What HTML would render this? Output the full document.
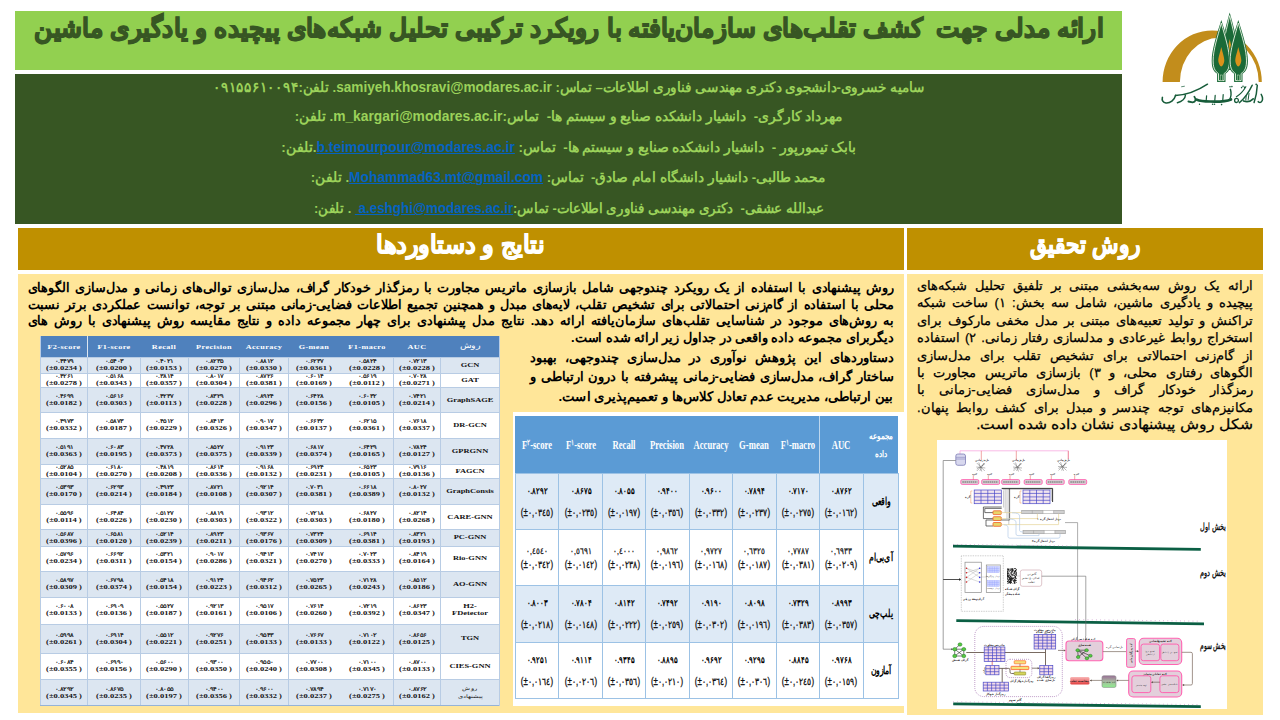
<!DOCTYPE html>
<html lang="fa"><head><meta charset="utf-8"><title>poster</title><style>
html,body{margin:0;padding:0;background:#fff}
body{position:relative;width:1280px;height:720px;overflow:hidden;font-family:"Liberation Sans",sans-serif;color:#000}
.b{position:absolute}
.ln{position:absolute;direction:rtl;white-space:nowrap;height:0}
.ln>span{position:absolute;right:0;top:0;display:block;transform-origin:100% 50%;white-space:nowrap;line-height:1}
.ln.c>span{right:auto;left:50%;transform-origin:50% 50%}
.j{text-align:justify;text-align-last:justify}
a{color:#0563c1;text-decoration:underline}

.c{position:absolute;white-space:nowrap;text-align:center;transform:translate(-50%,-50%);font-family:"Liberation Serif",serif;font-weight:bold;line-height:1}
.fa{direction:rtl;font-family:"Liberation Sans",sans-serif}
.lh{color:#fff;font-size:10px;transform:translate(-50%,-50%) scale(.82,.56);letter-spacing:.5px}
.ld{color:#111;font-size:10px;line-height:11.3px;transform:translate(-50%,-50%) scale(.85,.62)}
.ld .n{font-size:8px;font-weight:normal;-webkit-text-stroke:.25px #111;letter-spacing:.2px;font-family:"Liberation Sans",sans-serif;display:inline-block;transform:scaleY(1.2)}
.lm{color:#111;font-size:10px;line-height:10.5px;transform:translate(-50%,-50%) scale(.84,.64)}
.lm .fa{font-size:8px;font-weight:normal;display:inline-block;line-height:12px}
.rh{color:#fff;font-size:12px;transform:translate(-50%,-50%) scale(.72,1)}
.rh sup{font-size:8px;font-family:"Liberation Sans",sans-serif;vertical-align:4px;line-height:0}
.rhf{color:#fff;font-size:9px;line-height:18px;transform:translate(-50%,-50%) scale(.8,1)}
.rd1{color:#000;font-size:9.4px;font-family:"Liberation Sans",sans-serif;transform:translate(-50%,-50%) scale(.76,1)}
.rd2{color:#111;font-size:9.6px;font-weight:normal;-webkit-text-stroke:.3px #111;font-family:"Liberation Sans",sans-serif;transform:translate(-50%,-50%) scale(.82,1.08)}
.rd3{color:#111;font-size:8.6px;font-weight:normal;-webkit-text-stroke:.25px #111;font-family:"Liberation Sans",sans-serif;transform:translate(-50%,-50%) scale(.8,1)}
.rm{color:#000;font-size:10.8px;transform:translate(-50%,-50%) scale(.7,1)}
</style></head><body>
<div class="b" style="left:15px;top:11px;width:1107px;height:59px;background:#92d050"></div>
<div class="b" style="left:15px;top:74px;width:1107px;height:150px;background:#375623"></div>
<div class="b" style="left:18px;top:228px;width:886px;height:42px;background:#bf9000"></div>
<div class="b" style="left:907px;top:228px;width:356px;height:42px;background:#bf9000"></div>
<div class="b" style="left:18px;top:274px;width:886px;height:439px;background:#ffe699"></div>
<div class="b" style="left:907px;top:274px;width:356px;height:441px;background:#ffe699"></div>
<div class="ln" style="left:34px;top:15.12px;width:1069px"><span id="title" style="font-size:26px;font-weight:bold;color:#375623;transform:scaleX(0.9593);-webkit-text-stroke:1.3px #375623;">ارائه مدلی جهت&nbsp; کشف تقلب‌های سازمان‌یافته با رویکرد ترکیبی تحلیل شبکه‌های پیچیده و یادگیری ماشین</span></div>
<div class="ln" style="left:213px;top:79.74px;width:712px"><span id="au1" style="font-size:13.5px;font-weight:bold;color:#9bd25a;transform:scaleX(0.9700);">سامیه خسروی-دانشجوی دکتری مهندسی فناوری اطلاعات– تماس: <span dir="ltr" style="font-size:14px;font-weight:bold;">samiyeh.khosravi@modares.ac.ir</span>. تلفن:۰۹۱۵۵۶۱۰۰۹۴</span></div>
<div class="ln" style="left:295px;top:109.44px;width:548px"><span id="au2" style="font-size:13.5px;font-weight:bold;color:#9bd25a;transform:scaleX(0.9862);">مهرداد کارگری-&nbsp; دانشیار دانشکده صنایع و سیستم ها-&nbsp; تماس:<span dir="ltr" style="font-size:14px;font-weight:bold;">m_kargari@modares.ac.ir</span>. تلفن:</span></div>
<div class="ln" style="left:281px;top:139.94px;width:575px"><span id="au3" style="font-size:13.5px;font-weight:bold;color:#9bd25a;transform:scaleX(0.9942);">بابک تیمورپور -&nbsp; دانشیار دانشکده صنایع و سیستم ها-&nbsp; تماس: <a dir="ltr" style="font-size:14px;font-weight:bold;">b.teimourpour@modares.ac.ir</a>.تلفن:</span></div>
<div class="ln" style="left:311px;top:170.44px;width:515px"><span id="au4" style="font-size:13.5px;font-weight:bold;color:#9bd25a;transform:scaleX(0.9833);">محمد طالبی- دانشیار دانشگاه امام صادق-&nbsp; تماس: <a dir="ltr" style="font-size:14px;font-weight:bold;">Mohammad63.mt@gmail.com</a>. تلفن:</span></div>
<div class="ln" style="left:314px;top:200.94px;width:510px"><span id="au5" style="font-size:13.5px;font-weight:bold;color:#9bd25a;transform:scaleX(0.9570);">عبدالله عشقی-&nbsp; دکتری مهندسی فناوری اطلاعات- تماس:<a dir="ltr" style="font-size:14px;font-weight:bold;">&nbsp;a.eshghi@modares.ac.ir</a> . تلفن:</span></div>
<div class="ln" style="left:376px;top:231.75px;width:169px"><span id="h1" style="font-size:25px;font-weight:bold;color:#fff;transform:scaleX(0.9607);-webkit-text-stroke:1px #fff;">نتایج و دستاوردها</span></div>
<div class="ln" style="left:1030px;top:231.75px;width:110px"><span id="h2" style="font-size:25px;font-weight:bold;color:#fff;transform:scaleX(0.8665);-webkit-text-stroke:1px #fff;">روش تحقیق</span></div>
<div class="ln" style="left:28px;top:280.91px;width:866px"><span id="p1_0" class="j" style="width:883.67px;font-size:13px;font-weight:bold;color:#000;transform:scaleX(0.9800);">روش پیشنهادی با استفاده از یک رویکرد چندوجهی شامل بازسازی ماتریس مجاورت با رمزگذار خودکار گراف، مدل‌سازی توالی‌های زمانی و مدل‌سازی الگوهای</span></div>
<div class="ln" style="left:28px;top:297.51px;width:866px"><span id="p1_1" class="j" style="width:883.67px;font-size:13px;font-weight:bold;color:#000;transform:scaleX(0.9800);">محلی با استفاده از گام‌زنی احتمالاتی برای تشخیص تقلب، لایه‌های مبدل و همچنین تجمیع اطلاعات فضایی-زمانی مبتنی بر توجه، توانست عملکردی برتر نسبت</span></div>
<div class="ln" style="left:28px;top:314.11px;width:866px"><span id="p1_2" class="j" style="width:883.67px;font-size:13px;font-weight:bold;color:#000;transform:scaleX(0.9800);">به روش‌های موجود در شناسایی تقلب‌های سازمان‌یافته ارائه دهد. نتایج مدل پیشنهادی برای چهار مجموعه داده و نتایج مقایسه روش پیشنهادی با روش های</span></div>
<div class="ln" style="left:571px;top:330.71px;width:323px"><span id="p1_3" style="font-size:13px;font-weight:bold;color:#000;transform:scaleX(0.9874);">دیگربرای مجموعه داده واقعی در جداول زیر ارائه شده است.</span></div>
<div class="ln" style="left:530px;top:350.91px;width:364px"><span id="p2_0" class="j" style="width:364.00px;font-size:13px;font-weight:bold;color:#000;transform:scaleX(1.0000);">دستاوردهای این پژوهش نوآوری در مدل‌سازی چندوجهی، بهبود</span></div>
<div class="ln" style="left:530px;top:370.41px;width:364px"><span id="p2_1" class="j" style="width:364.00px;font-size:13px;font-weight:bold;color:#000;transform:scaleX(1.0000);">ساختار گراف، مدل‌سازی فضایی-زمانی پیشرفته با درون ارتباطی و</span></div>
<div class="ln" style="left:559px;top:389.91px;width:335px"><span id="p2_2" style="font-size:13px;font-weight:bold;color:#000;transform:scaleX(1.0166);">بین ارتباطی، مدیریت عدم تعادل کلاس‌ها و تعمیم‌پذیری است.</span></div>
<div class="ln" style="left:917px;top:278.91px;width:336px"><span id="p3_0" class="j" style="width:336.00px;font-size:13px;font-weight:normal;color:#000;transform:scaleX(1.0000);-webkit-text-stroke:0.25px #000;">ارائه یک روش سه‌بخشی مبتنی بر تلفیق تحلیل شبکه‌های</span></div>
<div class="ln" style="left:917px;top:296.31px;width:336px"><span id="p3_1" class="j" style="width:336.00px;font-size:13px;font-weight:normal;color:#000;transform:scaleX(1.0000);-webkit-text-stroke:0.25px #000;">پیچیده و یادگیری ماشین، شامل سه بخش: ۱) ساخت شبکه</span></div>
<div class="ln" style="left:917px;top:313.71px;width:336px"><span id="p3_2" class="j" style="width:336.00px;font-size:13px;font-weight:normal;color:#000;transform:scaleX(1.0000);-webkit-text-stroke:0.25px #000;">تراکنش و تولید تعبیه‌های مبتنی بر مدل مخفی مارکوف برای</span></div>
<div class="ln" style="left:917px;top:331.11px;width:336px"><span id="p3_3" class="j" style="width:336.00px;font-size:13px;font-weight:normal;color:#000;transform:scaleX(1.0000);-webkit-text-stroke:0.25px #000;">استخراج روابط غیرعادی و مدلسازی رفتار زمانی. ۲) استفاده</span></div>
<div class="ln" style="left:917px;top:348.51px;width:336px"><span id="p3_4" class="j" style="width:336.00px;font-size:13px;font-weight:normal;color:#000;transform:scaleX(1.0000);-webkit-text-stroke:0.25px #000;">از گام‌زنی احتمالاتی برای تشخیص تقلب برای مدل‌سازی</span></div>
<div class="ln" style="left:917px;top:365.91px;width:336px"><span id="p3_5" class="j" style="width:336.00px;font-size:13px;font-weight:normal;color:#000;transform:scaleX(1.0000);-webkit-text-stroke:0.25px #000;">الگوهای رفتاری محلی، و ۳) بازسازی ماتریس مجاورت با</span></div>
<div class="ln" style="left:917px;top:383.31px;width:336px"><span id="p3_6" class="j" style="width:336.00px;font-size:13px;font-weight:normal;color:#000;transform:scaleX(1.0000);-webkit-text-stroke:0.25px #000;">رمزگذار خودکار گراف و مدل‌سازی فضایی-زمانی با</span></div>
<div class="ln" style="left:917px;top:400.71px;width:336px"><span id="p3_7" class="j" style="width:336.00px;font-size:13px;font-weight:normal;color:#000;transform:scaleX(1.0000);-webkit-text-stroke:0.25px #000;">مکانیزم‌های توجه چندسر و مبدل برای کشف روابط پنهان.</span></div>
<div class="ln" style="left:976px;top:417.64px;width:277px"><span id="p3_8" style="font-size:13.5px;font-weight:normal;color:#000;transform:scaleX(1.1157);-webkit-text-stroke:0.25px #000;">شکل روش پیشنهادی نشان داده شده است.</span></div>
<div class="b lt" style="left:40px;top:336px;width:459px;height:370px;background:#fff">
<div class="b" style="left:0;top:0;width:459px;height:21px;background:#4f81bd"></div>
<div class="b" style="left:0;top:21.0px;width:459px;height:15.5px;background:#dce6f1;border-top:1px solid #b8cce4;box-sizing:border-box"></div>
<div class="b" style="left:0;top:36.5px;width:459px;height:14.5px;background:#fff;border-top:1px solid #b8cce4;box-sizing:border-box"></div>
<div class="b" style="left:0;top:51.0px;width:459px;height:25.0px;background:#dce6f1;border-top:1px solid #b8cce4;box-sizing:border-box"></div>
<div class="b" style="left:0;top:76.0px;width:459px;height:26.0px;background:#fff;border-top:1px solid #b8cce4;box-sizing:border-box"></div>
<div class="b" style="left:0;top:102.0px;width:459px;height:26.0px;background:#dce6f1;border-top:1px solid #b8cce4;box-sizing:border-box"></div>
<div class="b" style="left:0;top:128.0px;width:459px;height:14.0px;background:#fff;border-top:1px solid #b8cce4;box-sizing:border-box"></div>
<div class="b" style="left:0;top:142.0px;width:459px;height:26.0px;background:#dce6f1;border-top:1px solid #b8cce4;box-sizing:border-box"></div>
<div class="b" style="left:0;top:168.0px;width:459px;height:25.0px;background:#fff;border-top:1px solid #b8cce4;box-sizing:border-box"></div>
<div class="b" style="left:0;top:193.0px;width:459px;height:16.5px;background:#dce6f1;border-top:1px solid #b8cce4;box-sizing:border-box"></div>
<div class="b" style="left:0;top:209.5px;width:459px;height:25.0px;background:#fff;border-top:1px solid #b8cce4;box-sizing:border-box"></div>
<div class="b" style="left:0;top:234.5px;width:459px;height:26.0px;background:#dce6f1;border-top:1px solid #b8cce4;box-sizing:border-box"></div>
<div class="b" style="left:0;top:260.5px;width:459px;height:27.0px;background:#fff;border-top:1px solid #b8cce4;box-sizing:border-box"></div>
<div class="b" style="left:0;top:287.5px;width:459px;height:29.5px;background:#dce6f1;border-top:1px solid #b8cce4;box-sizing:border-box"></div>
<div class="b" style="left:0;top:317.0px;width:459px;height:26.0px;background:#fff;border-top:1px solid #b8cce4;box-sizing:border-box"></div>
<div class="b" style="left:0;top:343.0px;width:459px;height:27.0px;background:#dce6f1;border-top:1px solid #b8cce4;box-sizing:border-box"></div>
<div class="b" style="left:-0.5px;top:0px;width:1px;height:370px;background:#b8cce4"></div>
<div class="b" style="left:46.9px;top:0;width:1px;height:21px;background:#dce6f1"></div>
<div class="b" style="left:46.9px;top:21px;width:1px;height:349px;background:#b8cce4"></div>
<div class="b" style="left:99.9px;top:21px;width:1px;height:349px;background:#b8cce4"></div>
<div class="b" style="left:147.7px;top:21px;width:1px;height:349px;background:#b8cce4"></div>
<div class="b" style="left:198.9px;top:21px;width:1px;height:349px;background:#b8cce4"></div>
<div class="b" style="left:247.8px;top:21px;width:1px;height:349px;background:#b8cce4"></div>
<div class="b" style="left:352.9px;top:21px;width:1px;height:349px;background:#b8cce4"></div>
<div class="b" style="left:400.0px;top:21px;width:1px;height:349px;background:#b8cce4"></div>
<div class="b" style="left:458.5px;top:0px;width:1px;height:370px;background:#b8cce4"></div>
<div class="b" style="left:0;top:369px;width:459px;height:1px;background:#95b3d7"></div>
<div class="c lh" style="left:23.7px;top:10.5px">F2-score</div>
<div class="c lh" style="left:73.9px;top:10.5px">F1-score</div>
<div class="c lh" style="left:124.3px;top:10.5px">Recall</div>
<div class="c lh" style="left:173.8px;top:10.5px">Precision</div>
<div class="c lh" style="left:223.9px;top:10.5px">Accuracy</div>
<div class="c lh" style="left:274.4px;top:10.5px">G-mean</div>
<div class="c lh" style="left:326.9px;top:10.5px">F1-macro</div>
<div class="c lh" style="left:376.9px;top:10.5px">AUC</div>
<div class="c lh fa" style="left:429.8px;top:10.0px;font-size:10px;font-weight:normal;transform:translate(-50%,-50%) scale(.95,.8)">روش</div>
<div class="c ld" style="left:23.7px;top:28.1px"><span class="n">۰.۴۴۷۹</span><br>(±0.0234 )</div>
<div class="c ld" style="left:73.9px;top:28.1px"><span class="n">۰.۵۴۰۳</span><br>(±0.0200 )</div>
<div class="c ld" style="left:124.3px;top:28.1px"><span class="n">۰.۴۰۲۱</span><br>(±0.0153 )</div>
<div class="c ld" style="left:173.8px;top:28.1px"><span class="n">۰.۸۲۳۵</span><br>(±0.0270 )</div>
<div class="c ld" style="left:223.9px;top:28.1px"><span class="n">۰.۸۸۱۲</span><br>(±0.0330 )</div>
<div class="c ld" style="left:274.4px;top:28.1px"><span class="n">۰.۶۲۳۷</span><br>(±0.0361 )</div>
<div class="c ld" style="left:326.9px;top:28.1px"><span class="n">۰.۵۸۲۴</span><br>(±0.0228 )</div>
<div class="c ld" style="left:376.9px;top:28.1px"><span class="n">۰.۷۲۱۳</span><br>(±0.0228 )</div>
<div class="c lm" style="left:429.8px;top:28.8px">GCN</div>
<div class="c ld" style="left:23.7px;top:43.1px"><span class="n">۰.۴۲۶۱</span><br>(±0.0278 )</div>
<div class="c ld" style="left:73.9px;top:43.1px"><span class="n">۰.۵۱۶۸</span><br>(±0.0343 )</div>
<div class="c ld" style="left:124.3px;top:43.1px"><span class="n">۰.۳۸۱۴</span><br>(±0.0357 )</div>
<div class="c ld" style="left:173.8px;top:43.1px"><span class="n">۰.۸۰۱۷</span><br>(±0.0304 )</div>
<div class="c ld" style="left:223.9px;top:43.1px"><span class="n">۰.۸۷۲۶</span><br>(±0.0381 )</div>
<div class="c ld" style="left:274.4px;top:43.1px"><span class="n">۰.۶۰۱۴</span><br>(±0.0169 )</div>
<div class="c ld" style="left:326.9px;top:43.1px"><span class="n">۰.۵۶۱۹</span><br>(±0.0112 )</div>
<div class="c ld" style="left:376.9px;top:43.1px"><span class="n">۰.۷۰۲۸</span><br>(±0.0271 )</div>
<div class="c lm" style="left:429.8px;top:43.8px">GAT</div>
<div class="c ld" style="left:23.7px;top:62.9px"><span class="n">۰.۴۶۹۹</span><br>(±0.0182 )</div>
<div class="c ld" style="left:73.9px;top:62.9px"><span class="n">۰.۵۶۱۶</span><br>(±0.0303 )</div>
<div class="c ld" style="left:124.3px;top:62.9px"><span class="n">۰.۴۲۳۷</span><br>(±0.0113 )</div>
<div class="c ld" style="left:173.8px;top:62.9px"><span class="n">۰.۸۳۲۹</span><br>(±0.0228 )</div>
<div class="c ld" style="left:223.9px;top:62.9px"><span class="n">۰.۸۹۲۴</span><br>(±0.0296 )</div>
<div class="c ld" style="left:274.4px;top:62.9px"><span class="n">۰.۶۴۲۸</span><br>(±0.0156 )</div>
<div class="c ld" style="left:326.9px;top:62.9px"><span class="n">۰.۶۰۳۲</span><br>(±0.0105 )</div>
<div class="c ld" style="left:376.9px;top:62.9px"><span class="n">۰.۷۴۲۱</span><br>(±0.0214 )</div>
<div class="c lm" style="left:429.8px;top:63.5px">GraphSAGE</div>
<div class="c ld" style="left:23.7px;top:88.4px"><span class="n">۰.۴۹۷۳</span><br>(±0.0332 )</div>
<div class="c ld" style="left:73.9px;top:88.4px"><span class="n">۰.۵۸۷۳</span><br>(±0.0187 )</div>
<div class="c ld" style="left:124.3px;top:88.4px"><span class="n">۰.۴۵۱۲</span><br>(±0.0229 )</div>
<div class="c ld" style="left:173.8px;top:88.4px"><span class="n">۰.۸۴۱۳</span><br>(±0.0326 )</div>
<div class="c ld" style="left:223.9px;top:88.4px"><span class="n">۰.۹۰۱۷</span><br>(±0.0347 )</div>
<div class="c ld" style="left:274.4px;top:88.4px"><span class="n">۰.۶۶۳۲</span><br>(±0.0137 )</div>
<div class="c ld" style="left:326.9px;top:88.4px"><span class="n">۰.۶۲۱۵</span><br>(±0.0361 )</div>
<div class="c ld" style="left:376.9px;top:88.4px"><span class="n">۰.۷۶۱۸</span><br>(±0.0337 )</div>
<div class="c lm" style="left:429.8px;top:89.0px">DR-GCN</div>
<div class="c ld" style="left:23.7px;top:114.4px"><span class="n">۰.۵۱۹۱</span><br>(±0.0363 )</div>
<div class="c ld" style="left:73.9px;top:114.4px"><span class="n">۰.۶۰۸۳</span><br>(±0.0195 )</div>
<div class="c ld" style="left:124.3px;top:114.4px"><span class="n">۰.۴۷۲۸</span><br>(±0.0373 )</div>
<div class="c ld" style="left:173.8px;top:114.4px"><span class="n">۰.۸۵۲۷</span><br>(±0.0375 )</div>
<div class="c ld" style="left:223.9px;top:114.4px"><span class="n">۰.۹۱۲۳</span><br>(±0.0339 )</div>
<div class="c ld" style="left:274.4px;top:114.4px"><span class="n">۰.۶۸۱۷</span><br>(±0.0374 )</div>
<div class="c ld" style="left:326.9px;top:114.4px"><span class="n">۰.۶۴۲۹</span><br>(±0.0165 )</div>
<div class="c ld" style="left:376.9px;top:114.4px"><span class="n">۰.۷۸۲۴</span><br>(±0.0127 )</div>
<div class="c lm" style="left:429.8px;top:115.0px">GPRGNN</div>
<div class="c ld" style="left:23.7px;top:134.4px"><span class="n">۰.۵۲۸۵</span><br>(±0.0104 )</div>
<div class="c ld" style="left:73.9px;top:134.4px"><span class="n">۰.۶۱۸۰</span><br>(±0.0270 )</div>
<div class="c ld" style="left:124.3px;top:134.4px"><span class="n">۰.۴۸۱۹</span><br>(±0.0208 )</div>
<div class="c ld" style="left:173.8px;top:134.4px"><span class="n">۰.۸۶۱۴</span><br>(±0.0336 )</div>
<div class="c ld" style="left:223.9px;top:134.4px"><span class="n">۰.۹۱۶۸</span><br>(±0.0132 )</div>
<div class="c ld" style="left:274.4px;top:134.4px"><span class="n">۰.۶۹۲۴</span><br>(±0.0231 )</div>
<div class="c ld" style="left:326.9px;top:134.4px"><span class="n">۰.۶۵۲۳</span><br>(±0.0105 )</div>
<div class="c ld" style="left:376.9px;top:134.4px"><span class="n">۰.۷۹۱۶</span><br>(±0.0136 )</div>
<div class="c lm" style="left:429.8px;top:135.0px">FAGCN</div>
<div class="c ld" style="left:23.7px;top:154.4px"><span class="n">۰.۵۳۹۳</span><br>(±0.0170 )</div>
<div class="c ld" style="left:73.9px;top:154.4px"><span class="n">۰.۶۲۹۳</span><br>(±0.0214 )</div>
<div class="c ld" style="left:124.3px;top:154.4px"><span class="n">۰.۴۹۲۳</span><br>(±0.0184 )</div>
<div class="c ld" style="left:173.8px;top:154.4px"><span class="n">۰.۸۷۲۱</span><br>(±0.0108 )</div>
<div class="c ld" style="left:223.9px;top:154.4px"><span class="n">۰.۹۲۱۴</span><br>(±0.0307 )</div>
<div class="c ld" style="left:274.4px;top:154.4px"><span class="n">۰.۷۰۳۱</span><br>(±0.0381 )</div>
<div class="c ld" style="left:326.9px;top:154.4px"><span class="n">۰.۶۶۱۸</span><br>(±0.0389 )</div>
<div class="c ld" style="left:376.9px;top:154.4px"><span class="n">۰.۸۰۲۷</span><br>(±0.0132 )</div>
<div class="c lm" style="left:429.8px;top:155.0px">GraphConsis</div>
<div class="c ld" style="left:23.7px;top:179.9px"><span class="n">۰.۵۵۹۶</span><br>(±0.0114 )</div>
<div class="c ld" style="left:73.9px;top:179.9px"><span class="n">۰.۶۴۸۴</span><br>(±0.0226 )</div>
<div class="c ld" style="left:124.3px;top:179.9px"><span class="n">۰.۵۱۲۷</span><br>(±0.0230 )</div>
<div class="c ld" style="left:173.8px;top:179.9px"><span class="n">۰.۸۸۱۹</span><br>(±0.0303 )</div>
<div class="c ld" style="left:223.9px;top:179.9px"><span class="n">۰.۹۳۱۲</span><br>(±0.0322 )</div>
<div class="c ld" style="left:274.4px;top:179.9px"><span class="n">۰.۷۲۱۸</span><br>(±0.0303 )</div>
<div class="c ld" style="left:326.9px;top:179.9px"><span class="n">۰.۶۸۲۷</span><br>(±0.0180 )</div>
<div class="c ld" style="left:376.9px;top:179.9px"><span class="n">۰.۸۲۱۴</span><br>(±0.0268 )</div>
<div class="c lm" style="left:429.8px;top:180.5px">CARE-GNN</div>
<div class="c ld" style="left:23.7px;top:200.7px"><span class="n">۰.۵۶۸۷</span><br>(±0.0396 )</div>
<div class="c ld" style="left:73.9px;top:200.7px"><span class="n">۰.۶۵۸۱</span><br>(±0.0120 )</div>
<div class="c ld" style="left:124.3px;top:200.7px"><span class="n">۰.۵۲۱۴</span><br>(±0.0239 )</div>
<div class="c ld" style="left:173.8px;top:200.7px"><span class="n">۰.۸۹۲۳</span><br>(±0.0211 )</div>
<div class="c ld" style="left:223.9px;top:200.7px"><span class="n">۰.۹۳۶۷</span><br>(±0.0176 )</div>
<div class="c ld" style="left:274.4px;top:200.7px"><span class="n">۰.۷۳۲۴</span><br>(±0.0309 )</div>
<div class="c ld" style="left:326.9px;top:200.7px"><span class="n">۰.۶۹۱۴</span><br>(±0.0381 )</div>
<div class="c ld" style="left:376.9px;top:200.7px"><span class="n">۰.۸۳۲۱</span><br>(±0.0193 )</div>
<div class="c lm" style="left:429.8px;top:201.2px">PC-GNN</div>
<div class="c ld" style="left:23.7px;top:221.4px"><span class="n">۰.۵۷۹۶</span><br>(±0.0234 )</div>
<div class="c ld" style="left:73.9px;top:221.4px"><span class="n">۰.۶۶۹۲</span><br>(±0.0311 )</div>
<div class="c ld" style="left:124.3px;top:221.4px"><span class="n">۰.۵۳۲۱</span><br>(±0.0154 )</div>
<div class="c ld" style="left:173.8px;top:221.4px"><span class="n">۰.۹۰۱۷</span><br>(±0.0286 )</div>
<div class="c ld" style="left:223.9px;top:221.4px"><span class="n">۰.۹۴۱۳</span><br>(±0.0321 )</div>
<div class="c ld" style="left:274.4px;top:221.4px"><span class="n">۰.۷۴۱۷</span><br>(±0.0270 )</div>
<div class="c ld" style="left:326.9px;top:221.4px"><span class="n">۰.۷۰۲۳</span><br>(±0.0333 )</div>
<div class="c ld" style="left:376.9px;top:221.4px"><span class="n">۰.۸۴۱۹</span><br>(±0.0164 )</div>
<div class="c lm" style="left:429.8px;top:222.0px">Rio-GNN</div>
<div class="c ld" style="left:23.7px;top:246.9px"><span class="n">۰.۵۸۹۷</span><br>(±0.0309 )</div>
<div class="c ld" style="left:73.9px;top:246.9px"><span class="n">۰.۶۷۹۸</span><br>(±0.0374 )</div>
<div class="c ld" style="left:124.3px;top:246.9px"><span class="n">۰.۵۴۱۸</span><br>(±0.0154 )</div>
<div class="c ld" style="left:173.8px;top:246.9px"><span class="n">۰.۹۱۲۴</span><br>(±0.0223 )</div>
<div class="c ld" style="left:223.9px;top:246.9px"><span class="n">۰.۹۴۶۲</span><br>(±0.0312 )</div>
<div class="c ld" style="left:274.4px;top:246.9px"><span class="n">۰.۷۵۲۳</span><br>(±0.0265 )</div>
<div class="c ld" style="left:326.9px;top:246.9px"><span class="n">۰.۷۱۲۸</span><br>(±0.0243 )</div>
<div class="c ld" style="left:376.9px;top:246.9px"><span class="n">۰.۸۵۱۲</span><br>(±0.0186 )</div>
<div class="c lm" style="left:429.8px;top:247.5px">AO-GNN</div>
<div class="c ld" style="left:23.7px;top:273.4px"><span class="n">۰.۶۰۰۸</span><br>(±0.0133 )</div>
<div class="c ld" style="left:73.9px;top:273.4px"><span class="n">۰.۶۹۰۹</span><br>(±0.0136 )</div>
<div class="c ld" style="left:124.3px;top:273.4px"><span class="n">۰.۵۵۲۷</span><br>(±0.0187 )</div>
<div class="c ld" style="left:173.8px;top:273.4px"><span class="n">۰.۹۲۱۳</span><br>(±0.0161 )</div>
<div class="c ld" style="left:223.9px;top:273.4px"><span class="n">۰.۹۵۱۷</span><br>(±0.0106 )</div>
<div class="c ld" style="left:274.4px;top:273.4px"><span class="n">۰.۷۶۱۴</span><br>(±0.0260 )</div>
<div class="c ld" style="left:326.9px;top:273.4px"><span class="n">۰.۷۲۱۹</span><br>(±0.0392 )</div>
<div class="c ld" style="left:376.9px;top:273.4px"><span class="n">۰.۸۶۲۳</span><br>(±0.0347 )</div>
<div class="c lm" style="left:429.8px;top:274.0px">H2-<br>FDetector</div>
<div class="c ld" style="left:23.7px;top:301.6px"><span class="n">۰.۵۹۹۸</span><br>(±0.0261 )</div>
<div class="c ld" style="left:73.9px;top:301.6px"><span class="n">۰.۶۹۱۴</span><br>(±0.0304 )</div>
<div class="c ld" style="left:124.3px;top:301.6px"><span class="n">۰.۵۵۱۲</span><br>(±0.0221 )</div>
<div class="c ld" style="left:173.8px;top:301.6px"><span class="n">۰.۹۲۷۶</span><br>(±0.0251 )</div>
<div class="c ld" style="left:223.9px;top:301.6px"><span class="n">۰.۹۵۴۳</span><br>(±0.0133 )</div>
<div class="c ld" style="left:274.4px;top:301.6px"><span class="n">۰.۷۶۶۷</span><br>(±0.0133 )</div>
<div class="c ld" style="left:326.9px;top:301.6px"><span class="n">۰.۷۱۰۲</span><br>(±0.0122 )</div>
<div class="c ld" style="left:376.9px;top:301.6px"><span class="n">۰.۸۶۵۶</span><br>(±0.0125 )</div>
<div class="c lm" style="left:429.8px;top:302.2px">TGN</div>
<div class="c ld" style="left:23.7px;top:329.4px"><span class="n">۰.۶۰۸۴</span><br>(±0.0355 )</div>
<div class="c ld" style="left:73.9px;top:329.4px"><span class="n">۰.۶۹۹۰</span><br>(±0.0156 )</div>
<div class="c ld" style="left:124.3px;top:329.4px"><span class="n">۰.۵۶۰۰</span><br>(±0.0290 )</div>
<div class="c ld" style="left:173.8px;top:329.4px"><span class="n">۰.۹۳۰۰</span><br>(±0.0350 )</div>
<div class="c ld" style="left:223.9px;top:329.4px"><span class="n">۰.۹۵۵۰</span><br>(±0.0240 )</div>
<div class="c ld" style="left:274.4px;top:329.4px"><span class="n">۰.۷۷۰۰</span><br>(±0.0308 )</div>
<div class="c ld" style="left:326.9px;top:329.4px"><span class="n">۰.۷۱۰۰</span><br>(±0.0345 )</div>
<div class="c ld" style="left:376.9px;top:329.4px"><span class="n">۰.۸۷۰۰</span><br>(±0.0133 )</div>
<div class="c lm" style="left:429.8px;top:330.0px">CIES-GNN</div>
<div class="c ld" style="left:23.7px;top:355.9px"><span class="n">۰.۸۲۹۲</span><br>(±0.0345 )</div>
<div class="c ld" style="left:73.9px;top:355.9px"><span class="n">۰.۸۶۷۵</span><br>(±0.0235 )</div>
<div class="c ld" style="left:124.3px;top:355.9px"><span class="n">۰.۸۰۵۵</span><br>(±0.0197 )</div>
<div class="c ld" style="left:173.8px;top:355.9px"><span class="n">۰.۹۴۰۰</span><br>(±0.0356 )</div>
<div class="c ld" style="left:223.9px;top:355.9px"><span class="n">۰.۹۶۰۰</span><br>(±0.0332 )</div>
<div class="c ld" style="left:274.4px;top:355.9px"><span class="n">۰.۷۸۹۴</span><br>(±0.0237 )</div>
<div class="c ld" style="left:326.9px;top:355.9px"><span class="n">۰.۷۱۷۰</span><br>(±0.0275 )</div>
<div class="c ld" style="left:376.9px;top:355.9px"><span class="n">۰.۸۷۶۲</span><br>(±0.0162 )</div>
<div class="c lm" style="left:429.8px;top:356.5px"><span class="fa">روش<br>پیشنهادی</span></div>
</div>
<div class="b" style="left:513px;top:412px;width:393px;height:294px;background:#fff"></div>
<div class="b rt" style="left:515px;top:416px;width:383px;height:282.5px;background:#fff">
<div class="b" style="left:0;top:0;width:383px;height:56.5px;background:#5b9bd5"></div>
<div class="b" style="left:0;top:56.5px;width:383px;height:56.8px;background:#deeaf6;border-top:1px solid #9cc2e5;box-sizing:border-box"></div>
<div class="b" style="left:0;top:113.3px;width:383px;height:55.7px;background:#fff;border-top:1px solid #9cc2e5;box-sizing:border-box"></div>
<div class="b" style="left:0;top:169.0px;width:383px;height:56.8px;background:#deeaf6;border-top:1px solid #9cc2e5;box-sizing:border-box"></div>
<div class="b" style="left:0;top:225.8px;width:383px;height:56.7px;background:#fff;border-top:1px solid #9cc2e5;box-sizing:border-box"></div>
<div class="b" style="left:-0.5px;top:56.5px;width:1px;height:226.0px;background:#9cc2e5"></div>
<div class="b" style="left:43.0px;top:56.5px;width:1px;height:226.0px;background:#9cc2e5"></div>
<div class="b" style="left:87.0px;top:56.5px;width:1px;height:226.0px;background:#9cc2e5"></div>
<div class="b" style="left:130.0px;top:56.5px;width:1px;height:226.0px;background:#9cc2e5"></div>
<div class="b" style="left:173.8px;top:56.5px;width:1px;height:226.0px;background:#9cc2e5"></div>
<div class="b" style="left:216.9px;top:56.5px;width:1px;height:226.0px;background:#9cc2e5"></div>
<div class="b" style="left:260.5px;top:56.5px;width:1px;height:226.0px;background:#9cc2e5"></div>
<div class="b" style="left:304.1px;top:56.5px;width:1px;height:226.0px;background:#9cc2e5"></div>
<div class="b" style="left:347.6px;top:56.5px;width:1px;height:226.0px;background:#9cc2e5"></div>
<div class="b" style="left:382.5px;top:56.5px;width:1px;height:226.0px;background:#9cc2e5"></div>
<div class="b" style="left:304.1px;top:0;width:1px;height:56.5px;background:#bdd7ee"></div>
<div class="b" style="left:0;top:281.5px;width:383px;height:1px;background:#9cc2e5"></div>
<div class="c rh" style="left:21.8px;top:29.1px">F<sup>۲</sup>-score</div>
<div class="c rh" style="left:65.5px;top:29.1px">F<sup>۱</sup>-score</div>
<div class="c rh" style="left:109.0px;top:29.1px">Recall</div>
<div class="c rh" style="left:152.4px;top:29.1px">Precision</div>
<div class="c rh" style="left:195.8px;top:29.1px">Accuracy</div>
<div class="c rh" style="left:239.2px;top:29.1px">G-mean</div>
<div class="c rh" style="left:282.8px;top:29.1px">F<sup>۱</sup>-macro</div>
<div class="c rh" style="left:326.4px;top:29.1px">AUC</div>
<div class="c rhf fa" style="left:365.5px;top:28.6px">مجموعه<br>داده</div>
<div class="c rd1" style="left:21.8px;top:74.6px">۰.۸۲۹۲</div>
<div class="c rd2" style="left:21.8px;top:96.6px">(±۰,۰۳٤٥)</div>
<div class="c rd1" style="left:65.5px;top:74.6px">۰.۸۶۷۵</div>
<div class="c rd2" style="left:65.5px;top:96.6px">(±۰,۰۲۳٥)</div>
<div class="c rd1" style="left:109.0px;top:74.6px">۰.۸۰۵۵</div>
<div class="c rd2" style="left:109.0px;top:96.6px">(±۰,۰۱۹۷)</div>
<div class="c rd1" style="left:152.4px;top:74.6px">۰.۹۴۰۰</div>
<div class="c rd2" style="left:152.4px;top:96.6px">(±۰,۰۳٥٦)</div>
<div class="c rd1" style="left:195.8px;top:74.6px">۰.۹۶۰۰</div>
<div class="c rd2" style="left:195.8px;top:96.6px">(±۰,۰۳۳۲)</div>
<div class="c rd1" style="left:239.2px;top:74.6px">۰.۷۸۹۴</div>
<div class="c rd2" style="left:239.2px;top:96.6px">(±۰,۰۲۳۷)</div>
<div class="c rd1" style="left:282.8px;top:74.6px">۰.۷۱۷۰</div>
<div class="c rd2" style="left:282.8px;top:96.6px">(±۰,۰۲۷٥)</div>
<div class="c rd1" style="left:326.4px;top:74.6px">۰.۸۷۶۲</div>
<div class="c rd2" style="left:326.4px;top:96.6px">(±۰,۰۱٦۲)</div>
<div class="c rm fa" style="left:365.5px;top:84.9px">واقعی</div>
<div class="c rd3" style="left:21.8px;top:135.1px">۰,٤٥٤۰</div>
<div class="c rd2" style="left:21.8px;top:148.6px">(±۰,۰۳٤۲)</div>
<div class="c rd3" style="left:65.5px;top:135.1px">۰,٥٦۹۱</div>
<div class="c rd2" style="left:65.5px;top:148.6px">(±۰,۰۱٤۲)</div>
<div class="c rd3" style="left:109.0px;top:135.1px">۰,٤۰۰۰</div>
<div class="c rd2" style="left:109.0px;top:148.6px">(±۰,۰۲۳۸)</div>
<div class="c rd3" style="left:152.4px;top:135.1px">۰,۹۸٦۲</div>
<div class="c rd2" style="left:152.4px;top:148.6px">(±۰,۰۱۹٦)</div>
<div class="c rd3" style="left:195.8px;top:135.1px">۰,۹۷۲۷</div>
<div class="c rd2" style="left:195.8px;top:148.6px">(±۰,۰۱٦۸)</div>
<div class="c rd3" style="left:239.2px;top:135.1px">۰,٦۳۲٥</div>
<div class="c rd2" style="left:239.2px;top:148.6px">(±۰,۰۱۸۷)</div>
<div class="c rd3" style="left:282.8px;top:135.1px">۰,۷۷۸۷</div>
<div class="c rd2" style="left:282.8px;top:148.6px">(±۰,۰۳۸۱)</div>
<div class="c rd3" style="left:326.4px;top:135.1px">۰,٦۹۳۳</div>
<div class="c rd2" style="left:326.4px;top:148.6px">(±۰,۰۲۰۹)</div>
<div class="c rm fa" style="left:365.5px;top:141.1px">آی‌بی‌ام</div>
<div class="c rd1" style="left:21.8px;top:187.1px">۰.۸۰۰۳</div>
<div class="c rd2" style="left:21.8px;top:209.1px">(±۰,۰۲۱۸)</div>
<div class="c rd1" style="left:65.5px;top:187.1px">۰.۷۸۰۴</div>
<div class="c rd2" style="left:65.5px;top:209.1px">(±۰,۰۱٤۸)</div>
<div class="c rd1" style="left:109.0px;top:187.1px">۰.۸۱۴۲</div>
<div class="c rd2" style="left:109.0px;top:209.1px">(±۰,۰۲۲۲)</div>
<div class="c rd1" style="left:152.4px;top:187.1px">۰.۷۴۹۲</div>
<div class="c rd2" style="left:152.4px;top:209.1px">(±۰,۰۲٥۹)</div>
<div class="c rd1" style="left:195.8px;top:187.1px">۰.۹۱۹۰</div>
<div class="c rd2" style="left:195.8px;top:209.1px">(±۰,۰۳۰۲)</div>
<div class="c rd1" style="left:239.2px;top:187.1px">۰.۸۰۹۸</div>
<div class="c rd2" style="left:239.2px;top:209.1px">(±۰,۰۱۹٦)</div>
<div class="c rd1" style="left:282.8px;top:187.1px">۰.۷۳۲۹</div>
<div class="c rd2" style="left:282.8px;top:209.1px">(±۰,۰۳۸۳)</div>
<div class="c rd1" style="left:326.4px;top:187.1px">۰.۸۹۹۳</div>
<div class="c rd2" style="left:326.4px;top:209.1px">(±۰,۰۳٥۷)</div>
<div class="c rm fa" style="left:365.5px;top:197.4px">یلپ‌چی</div>
<div class="c rd1" style="left:21.8px;top:243.8px">۰.۹۲۵۱</div>
<div class="c rd2" style="left:21.8px;top:265.8px">(±۰,۰۱٦٤)</div>
<div class="c rd1" style="left:65.5px;top:243.8px">۰.۹۱۱۴</div>
<div class="c rd2" style="left:65.5px;top:265.8px">(±۰,۰۲۰٦)</div>
<div class="c rd1" style="left:109.0px;top:243.8px">۰.۹۳۴۵</div>
<div class="c rd2" style="left:109.0px;top:265.8px">(±۰,۰۳٥٦)</div>
<div class="c rd1" style="left:152.4px;top:243.8px">۰.۸۸۹۵</div>
<div class="c rd2" style="left:152.4px;top:265.8px">(±۰,۰۲۱۰)</div>
<div class="c rd1" style="left:195.8px;top:243.8px">۰.۹۶۹۲</div>
<div class="c rd2" style="left:195.8px;top:265.8px">(±۰,۰۳٦٤)</div>
<div class="c rd1" style="left:239.2px;top:243.8px">۰.۹۲۹۵</div>
<div class="c rd2" style="left:239.2px;top:265.8px">(±۰,۰۳۰٦)</div>
<div class="c rd1" style="left:282.8px;top:243.8px">۰.۸۸۴۵</div>
<div class="c rd2" style="left:282.8px;top:265.8px">(±۰,۰۲٤٥)</div>
<div class="c rd1" style="left:326.4px;top:243.8px">۰.۹۷۶۸</div>
<div class="c rd2" style="left:326.4px;top:265.8px">(±۰,۰۱٥۹)</div>
<div class="c rm fa" style="left:365.5px;top:254.1px">آمازون</div>
</div>
<div class="b" style="left:937px;top:440px;width:290px;height:269px;background:#fff"></div>
<svg class="b" style="left:937px;top:440px;font-family:'Liberation Sans',sans-serif" width="290" height="269" viewBox="937 440 290 269">
<path d="M960 454V450.8H1068.3V459" fill="none" stroke="#f7a8e0" stroke-width="0.8"/>
<path d="M981.3 450.8V460M1016.3 450.8V460M1068.3 450.8V459" fill="none" stroke="#e86a6a" stroke-width="0.6"/>
<rect x="955.8" y="454" width="9.7" height="11.3" rx="2" fill="#d8d8ee" stroke="#6f6fae" stroke-width="0.7"/><path d="M956 457.3H965.3M956 459H965.3" stroke="#6f6fae" stroke-width="0.5"/>
<path d="M955.8 460.5H943.2V649.2H953" fill="none" stroke="#777" stroke-width="0.7"/>
<path d="M976.8 463L984.8 471M984.8 463L976.8 471M976.3 467L985.3 468M978.8 462.5L981.8 471.5M983.8 463L979.8 471M976.8 469L984.8 464" stroke="#555" stroke-width="0.5" fill="none" opacity=".8"/>
<text x="981.8" y="460.6" font-size="2.6" font-weight="bold" fill="#222" text-anchor="middle" direction="rtl" >بازه زمانی</text>
<path d="M1013.5 463L1021.5 471M1021.5 463L1013.5 471M1013.0 467L1022.0 468M1015.5 462.5L1018.5 471.5M1020.5 463L1016.5 471M1013.5 469L1021.5 464" stroke="#555" stroke-width="0.5" fill="none" opacity=".8"/>
<text x="1018.5" y="460.6" font-size="2.6" font-weight="bold" fill="#222" text-anchor="middle" direction="rtl" >بازه زمانی</text>
<path d="M1058.5 462.5L1066.5 470.5M1066.5 462.5L1058.5 470.5M1058.0 466.5L1067.0 467.5M1060.5 462.0L1063.5 471.0M1065.5 462.5L1061.5 470.5M1058.5 468.5L1066.5 463.5" stroke="#555" stroke-width="0.5" fill="none" opacity=".8"/>
<text x="1063.5" y="460.6" font-size="2.6" font-weight="bold" fill="#222" text-anchor="middle" direction="rtl" >بازه زمانی</text>
<rect x="960.8" y="479.6" width="18.0" height="4.8" rx="1.4" fill="#d9d2d6" stroke="#ff63b1" stroke-width="0.9"/>
<path d="M962.3 482H977.3" stroke="#888" stroke-width="1.4" stroke-dasharray="1.6 0.5"/>
<path d="M973.3 475.2V479.6" stroke="#e05050" stroke-width="0.5"/>
<text x="974.8" y="474.6" font-size="2.4" font-weight="bold" fill="#222" text-anchor="middle" direction="rtl" >گام n</text>
<rect x="981.7" y="479.6" width="18.0" height="4.8" rx="1.4" fill="#d9d2d6" stroke="#ff63b1" stroke-width="0.9"/>
<path d="M983.2 482H998.2" stroke="#888" stroke-width="1.4" stroke-dasharray="1.6 0.5"/>
<path d="M988.3 475.2V479.6" stroke="#e05050" stroke-width="0.5"/>
<text x="989.8" y="474.6" font-size="2.4" font-weight="bold" fill="#222" text-anchor="middle" direction="rtl" >گام n</text>
<rect x="1001.7" y="479.6" width="18.0" height="4.8" rx="1.4" fill="#d9d2d6" stroke="#ff63b1" stroke-width="0.9"/>
<path d="M1003.2 482H1018.2" stroke="#888" stroke-width="1.4" stroke-dasharray="1.6 0.5"/>
<path d="M1010 475.2V479.6" stroke="#e05050" stroke-width="0.5"/>
<text x="1011.5" y="474.6" font-size="2.4" font-weight="bold" fill="#222" text-anchor="middle" direction="rtl" >گام n</text>
<rect x="1024.2" y="479.6" width="18.0" height="4.8" rx="1.4" fill="#d9d2d6" stroke="#ff63b1" stroke-width="0.9"/>
<path d="M1025.7 482H1040.7" stroke="#888" stroke-width="1.4" stroke-dasharray="1.6 0.5"/>
<path d="M1030.3 475.2V479.6" stroke="#e05050" stroke-width="0.5"/>
<text x="1031.8" y="474.6" font-size="2.4" font-weight="bold" fill="#222" text-anchor="middle" direction="rtl" >گام n</text>
<rect x="1046.3" y="479.6" width="17.9" height="4.8" rx="1.4" fill="#d9d2d6" stroke="#ff63b1" stroke-width="0.9"/>
<path d="M1047.8 482H1062.7" stroke="#888" stroke-width="1.4" stroke-dasharray="1.6 0.5"/>
<path d="M1051.3 475.2V479.6" stroke="#e05050" stroke-width="0.5"/>
<text x="1052.8" y="474.6" font-size="2.4" font-weight="bold" fill="#222" text-anchor="middle" direction="rtl" >گام n</text>
<rect x="1068.8" y="479.6" width="17.9" height="4.8" rx="1.4" fill="#d9d2d6" stroke="#ff63b1" stroke-width="0.9"/>
<path d="M1070.3 482H1085.2" stroke="#888" stroke-width="1.4" stroke-dasharray="1.6 0.5"/>
<path d="M1074.7 475.2V479.6" stroke="#e05050" stroke-width="0.5"/>
<text x="1076.2" y="474.6" font-size="2.4" font-weight="bold" fill="#222" text-anchor="middle" direction="rtl" >گام n</text>
<rect x="974.2" y="490" width="27.1" height="13.7" fill="#f1e4ee" stroke="#4848c8" stroke-width="0.7"/><path d="M981.0 490V503.7M987.8 490V503.7M994.5 490V503.7M974.2 493.4H1001.3M974.2 496.9H1001.3M974.2 500.3H1001.3" stroke="#4848c8" stroke-width="0.7" fill="none"/>
<rect x="1023" y="490" width="27.0" height="13.7" fill="#f1e4ee" stroke="#4848c8" stroke-width="0.7"/><path d="M1029.8 490V503.7M1036.5 490V503.7M1043.2 490V503.7M1023 493.4H1050M1023 496.9H1050M1023 500.3H1050" stroke="#4848c8" stroke-width="0.7" fill="none"/>
<path d="M972.3 491H970.8V503H972.3" fill="none" stroke="#f4b183" stroke-width="0.7"/>
<text x="967.5999999999999" y="498" font-size="2.6" font-weight="bold" fill="#222" text-anchor="middle" direction="rtl" >گره</text>
<path d="M1021.5 491H1020V503H1021.5" fill="none" stroke="#f4b183" stroke-width="0.7"/>
<text x="1016.8" y="498" font-size="2.6" font-weight="bold" fill="#222" text-anchor="middle" direction="rtl" >گره</text>
<path d="M1001.7 488.4H1052.6V502" fill="none" stroke="#333" stroke-width="1"/>
<path d="M1002.6 489.4H1051.6V501M1003.6 490.4V507.5M1005.2 489.6V513M1007 489.6V519M1008.8 489V525" fill="none" stroke="#666" stroke-width="0.35"/>
<path d="M1001.7 507H983.4V518.6H993M1001.7 508.4H984.8V512.6H993M1009.6 488.4V520H986V526H993" fill="none" stroke="#333" stroke-width="0.7"/>
<rect x="993" y="510.8" width="8.3" height="3.8" rx="0.9" fill="#e8d66a" stroke="#f0602c" stroke-width="0.8"/>
<rect x="993" y="516.7" width="8.3" height="3.8" rx="0.9" fill="#e8d66a" stroke="#f0602c" stroke-width="0.8"/>
<rect x="993" y="522.5" width="8.3" height="3.8" rx="0.9" fill="#e8d66a" stroke="#f0602c" stroke-width="0.8"/>
<rect x="1021.7" y="510.3" width="42.5" height="3.4" fill="#d0d0d0" stroke="#9a9a9a" stroke-width="0.6"/>
<rect x="1043.0" y="510.7" width="10.6" height="2.6" fill="#fff"/>
<path d="M1032.3 510.3v3.4M1043.0 510.3v3.4M1053.6 510.3v3.4" stroke="#9a9a9a" stroke-width="0.5"/>
<rect x="1023" y="530.3" width="42.5" height="3.4" fill="#d0d0d0" stroke="#9a9a9a" stroke-width="0.6"/>
<rect x="1044.2" y="530.6999999999999" width="10.6" height="2.6" fill="#fff"/>
<path d="M1033.6 530.3v3.4M1044.2 530.3v3.4M1054.9 530.3v3.4" stroke="#9a9a9a" stroke-width="0.5"/>
<path d="M1001.3 512.6H1021.7M1001.3 518.6H1037.4V513.8M1001.3 524.6H1058.6V513.8" fill="none" stroke="#e6d49a" stroke-width="0.7"/>
<path d="M1012 512.8 Q1019.6 512.8 1019.6 516V530.6Q1019.6 532 1023 532M1006 518.8Q1016 518.8 1016 522V534Q1016 535.6 1018 535.6H1039V533.8M1004 524.8Q1008 524.8 1008 527V536.6Q1008 538.2 1010 538.2H1058Q1060 538.2 1060 536.6V533.8" fill="none" stroke="#b4cbe8" stroke-width="0.7"/>
<text x="1049" y="519.6" font-size="2.6" font-weight="bold" fill="#222" text-anchor="middle" direction="rtl" >بردار انتقال گره ۱</text>
<text x="1043.5" y="542.4" font-size="2.6" font-weight="bold" fill="#222" text-anchor="middle" direction="rtl" >بردار انتقال گره n</text>
<path d="M1065 522.6H1077.6V636" fill="none" stroke="#777" stroke-width="0.6"/>
<path d="M953 544.8L1200.8 548V550.8L953 547.6Z M956.3 619.2L1204 622.4V625.2L956.3 622Z M953.2 702.4L1200.8 705.2V708L953.2 705.2Z" fill="#0b5f44"/>
<path d="M953 544.4L1075 546M1075 619.6L1200 621.2M953 701.8L1200 704.6" stroke="#c080c0" stroke-width="0.7" stroke-dasharray="0.8 3.4" fill="none"/>
<text x="1226" y="530.2" font-size="9.5" font-weight="bold" fill="#111" text-anchor="start" direction="rtl" textLength="26" lengthAdjust="spacingAndGlyphs">بخش اول</text>
<text x="1226" y="576.2" font-size="9.5" font-weight="bold" fill="#111" text-anchor="start" direction="rtl" textLength="26" lengthAdjust="spacingAndGlyphs">بخش دوم</text>
<text x="1226" y="648.6" font-size="9.5" font-weight="bold" fill="#111" text-anchor="start" direction="rtl" textLength="26" lengthAdjust="spacingAndGlyphs">بخش سوم</text>
<path d="M943.2 579.5H960" stroke="#222" stroke-width="0.8"/><path d="M961.4 579.5l-2.4-1.2v2.4z" fill="#222"/>
<rect x="961.3" y="555.8" width="42" height="55.5" fill="none" stroke="#999" stroke-width="0.6" stroke-dasharray="0.8 0.9"/>
<rect x="965" y="562.2" width="16.3" height="30.3" fill="#fff" stroke="#8a8a8a" stroke-width="0.7"/>
<path d="M966.6 568.3L979.6 577.4M966.6 572.8L979.6 568.3M966.6 577.4L979.6 582M966.6 582L979.6 572.8M966.6 568.3L979.6 572.8M966.6 577.4L979.6 568.3" stroke="#aaa" stroke-width="0.4"/>
<circle cx="966.5" cy="568.3" r="0.8" fill="#d02020"/><circle cx="979.7" cy="568.3" r="0.8" fill="#3030e0"/>
<circle cx="966.5" cy="572.8" r="0.8" fill="#d02020"/><circle cx="979.7" cy="572.8" r="0.8" fill="#3030e0"/>
<circle cx="966.5" cy="577.4" r="0.8" fill="#d02020"/><circle cx="979.7" cy="577.4" r="0.8" fill="#3030e0"/>
<circle cx="966.5" cy="582" r="0.8" fill="#d02020"/><circle cx="979.7" cy="582" r="0.8" fill="#3030e0"/>
<path d="M981.3 577H986.3" stroke="#aaa" stroke-width="0.4"/>
<rect x="986.3" y="565" width="14" height="27.5" fill="#fff" stroke="#8a8a8a" stroke-width="0.7"/>
<rect x="987.5" y="566.7" width="11.7" height="5.8" fill="#cdd4ff" stroke="#8f9bff" stroke-width="0.35"/><path d="M989.8 566.7V572.5M992.2 566.7V572.5M994.5 566.7V572.5M996.9 566.7V572.5M987.5 568.6H999.2M987.5 570.6H999.2" stroke="#8f9bff" stroke-width="0.35" fill="none"/>
<rect x="987.5" y="580.5" width="11.7" height="5.8" fill="#cdd4ff" stroke="#8f9bff" stroke-width="0.35"/><path d="M989.8 580.5V586.3M992.2 580.5V586.3M994.5 580.5V586.3M996.9 580.5V586.3M987.5 582.4H999.2M987.5 584.4H999.2" stroke="#8f9bff" stroke-width="0.35" fill="none"/>
<text x="993.3" y="576.6" font-size="2.2" font-weight="normal" fill="#222" text-anchor="middle" direction="rtl" >بردار ویژگی‌ها</text>
<text x="993.3" y="589.4" font-size="2.2" font-weight="normal" fill="#222" text-anchor="middle" direction="rtl" >بردار برچسب</text>
<text x="973" y="600.2" font-size="3.3" font-weight="bold" fill="#222" text-anchor="middle" direction="rtl" textLength="20.5" lengthAdjust="spacingAndGlyphs">گراف دوبخشی زمانی</text>
<path d="M1007.0 568.3h.7v.7h-.7zM1007.0 569.0h.7v.7h-.7zM1007.0 570.4h.7v.7h-.7zM1007.0 571.1h.7v.7h-.7zM1007.0 571.8h.7v.7h-.7zM1007.0 572.5h.7v.7h-.7zM1007.0 573.2h.7v.7h-.7zM1007.0 573.9h.7v.7h-.7zM1007.0 574.6h.7v.7h-.7zM1007.0 575.3h.7v.7h-.7zM1007.0 576.0h.7v.7h-.7zM1007.0 576.7h.7v.7h-.7zM1007.0 578.1h.7v.7h-.7zM1007.0 578.8h.7v.7h-.7zM1007.0 580.9h.7v.7h-.7zM1007.0 581.6h.7v.7h-.7zM1007.0 583.0h.7v.7h-.7zM1007.7 569.0h.7v.7h-.7zM1007.7 569.7h.7v.7h-.7zM1007.7 570.4h.7v.7h-.7zM1007.7 571.1h.7v.7h-.7zM1007.7 572.5h.7v.7h-.7zM1007.7 573.2h.7v.7h-.7zM1007.7 574.6h.7v.7h-.7zM1007.7 575.3h.7v.7h-.7zM1007.7 576.0h.7v.7h-.7zM1007.7 576.7h.7v.7h-.7zM1007.7 577.4h.7v.7h-.7zM1007.7 578.8h.7v.7h-.7zM1007.7 579.5h.7v.7h-.7zM1007.7 580.2h.7v.7h-.7zM1007.7 580.9h.7v.7h-.7zM1007.7 581.6h.7v.7h-.7zM1008.4 568.3h.7v.7h-.7zM1008.4 569.0h.7v.7h-.7zM1008.4 569.7h.7v.7h-.7zM1008.4 571.8h.7v.7h-.7zM1008.4 573.2h.7v.7h-.7zM1008.4 573.9h.7v.7h-.7zM1008.4 575.3h.7v.7h-.7zM1008.4 576.0h.7v.7h-.7zM1008.4 576.7h.7v.7h-.7zM1008.4 578.8h.7v.7h-.7zM1008.4 580.2h.7v.7h-.7zM1008.4 581.6h.7v.7h-.7zM1008.4 582.3h.7v.7h-.7zM1008.4 583.0h.7v.7h-.7zM1009.1 569.7h.7v.7h-.7zM1009.1 571.1h.7v.7h-.7zM1009.1 574.6h.7v.7h-.7zM1009.1 575.3h.7v.7h-.7zM1009.1 576.7h.7v.7h-.7zM1009.1 577.4h.7v.7h-.7zM1009.1 578.1h.7v.7h-.7zM1009.1 578.8h.7v.7h-.7zM1009.1 579.5h.7v.7h-.7zM1009.1 580.9h.7v.7h-.7zM1009.1 581.6h.7v.7h-.7zM1009.1 582.3h.7v.7h-.7zM1009.8 568.3h.7v.7h-.7zM1009.8 569.0h.7v.7h-.7zM1009.8 569.7h.7v.7h-.7zM1009.8 572.5h.7v.7h-.7zM1009.8 573.2h.7v.7h-.7zM1009.8 573.9h.7v.7h-.7zM1009.8 576.0h.7v.7h-.7zM1009.8 576.7h.7v.7h-.7zM1009.8 577.4h.7v.7h-.7zM1009.8 578.1h.7v.7h-.7zM1009.8 578.8h.7v.7h-.7zM1009.8 579.5h.7v.7h-.7zM1009.8 580.2h.7v.7h-.7zM1009.8 580.9h.7v.7h-.7zM1009.8 581.6h.7v.7h-.7zM1009.8 582.3h.7v.7h-.7zM1009.8 583.0h.7v.7h-.7zM1010.5 569.7h.7v.7h-.7zM1010.5 570.4h.7v.7h-.7zM1010.5 571.8h.7v.7h-.7zM1010.5 575.3h.7v.7h-.7zM1010.5 576.0h.7v.7h-.7zM1010.5 576.7h.7v.7h-.7zM1010.5 578.1h.7v.7h-.7zM1010.5 578.8h.7v.7h-.7zM1010.5 579.5h.7v.7h-.7zM1010.5 580.2h.7v.7h-.7zM1010.5 580.9h.7v.7h-.7zM1010.5 581.6h.7v.7h-.7zM1010.5 582.3h.7v.7h-.7zM1010.5 583.0h.7v.7h-.7zM1011.2 568.3h.7v.7h-.7zM1011.2 569.0h.7v.7h-.7zM1011.2 569.7h.7v.7h-.7zM1011.2 571.1h.7v.7h-.7zM1011.2 571.8h.7v.7h-.7zM1011.2 572.5h.7v.7h-.7zM1011.2 573.2h.7v.7h-.7zM1011.2 573.9h.7v.7h-.7zM1011.2 574.6h.7v.7h-.7zM1011.2 576.7h.7v.7h-.7zM1011.2 577.4h.7v.7h-.7zM1011.2 578.1h.7v.7h-.7zM1011.2 578.8h.7v.7h-.7zM1011.2 579.5h.7v.7h-.7zM1011.2 580.2h.7v.7h-.7zM1011.2 581.6h.7v.7h-.7zM1011.2 582.3h.7v.7h-.7zM1011.9 568.3h.7v.7h-.7zM1011.9 569.0h.7v.7h-.7zM1011.9 569.7h.7v.7h-.7zM1011.9 570.4h.7v.7h-.7zM1011.9 571.1h.7v.7h-.7zM1011.9 573.9h.7v.7h-.7zM1011.9 574.6h.7v.7h-.7zM1011.9 575.3h.7v.7h-.7zM1011.9 576.7h.7v.7h-.7zM1011.9 578.1h.7v.7h-.7zM1011.9 578.8h.7v.7h-.7zM1012.6 568.3h.7v.7h-.7zM1012.6 569.0h.7v.7h-.7zM1012.6 569.7h.7v.7h-.7zM1012.6 570.4h.7v.7h-.7zM1012.6 571.1h.7v.7h-.7zM1012.6 571.8h.7v.7h-.7zM1012.6 572.5h.7v.7h-.7zM1012.6 574.6h.7v.7h-.7zM1012.6 577.4h.7v.7h-.7zM1012.6 578.1h.7v.7h-.7zM1012.6 578.8h.7v.7h-.7zM1012.6 579.5h.7v.7h-.7zM1012.6 580.2h.7v.7h-.7zM1012.6 583.0h.7v.7h-.7zM1013.3 569.7h.7v.7h-.7zM1013.3 573.2h.7v.7h-.7zM1013.3 573.9h.7v.7h-.7zM1013.3 575.3h.7v.7h-.7zM1013.3 577.4h.7v.7h-.7zM1013.3 578.1h.7v.7h-.7zM1013.3 580.2h.7v.7h-.7zM1013.3 580.9h.7v.7h-.7zM1013.3 581.6h.7v.7h-.7zM1014.0 568.3h.7v.7h-.7zM1014.0 571.1h.7v.7h-.7zM1014.0 571.8h.7v.7h-.7zM1014.0 572.5h.7v.7h-.7zM1014.0 573.2h.7v.7h-.7zM1014.0 575.3h.7v.7h-.7zM1014.0 576.7h.7v.7h-.7zM1014.0 578.8h.7v.7h-.7zM1014.0 579.5h.7v.7h-.7zM1014.0 580.2h.7v.7h-.7zM1014.0 580.9h.7v.7h-.7zM1014.0 581.6h.7v.7h-.7zM1014.0 582.3h.7v.7h-.7zM1014.0 583.0h.7v.7h-.7zM1014.7 568.3h.7v.7h-.7zM1014.7 569.7h.7v.7h-.7zM1014.7 570.4h.7v.7h-.7zM1014.7 571.1h.7v.7h-.7zM1014.7 572.5h.7v.7h-.7zM1014.7 573.9h.7v.7h-.7zM1014.7 574.6h.7v.7h-.7zM1014.7 575.3h.7v.7h-.7zM1014.7 576.0h.7v.7h-.7zM1014.7 576.7h.7v.7h-.7zM1014.7 577.4h.7v.7h-.7zM1014.7 578.1h.7v.7h-.7zM1014.7 579.5h.7v.7h-.7zM1014.7 580.2h.7v.7h-.7zM1014.7 581.6h.7v.7h-.7zM1014.7 582.3h.7v.7h-.7zM1014.7 583.0h.7v.7h-.7zM1015.4 568.3h.7v.7h-.7zM1015.4 569.7h.7v.7h-.7zM1015.4 570.4h.7v.7h-.7zM1015.4 571.1h.7v.7h-.7zM1015.4 571.8h.7v.7h-.7zM1015.4 573.2h.7v.7h-.7zM1015.4 573.9h.7v.7h-.7zM1015.4 576.0h.7v.7h-.7zM1015.4 576.7h.7v.7h-.7zM1015.4 577.4h.7v.7h-.7zM1015.4 578.1h.7v.7h-.7zM1015.4 579.5h.7v.7h-.7zM1015.4 580.2h.7v.7h-.7zM1015.4 580.9h.7v.7h-.7zM1016.1 569.0h.7v.7h-.7zM1016.1 569.7h.7v.7h-.7zM1016.1 571.8h.7v.7h-.7zM1016.1 572.5h.7v.7h-.7zM1016.1 573.2h.7v.7h-.7zM1016.1 573.9h.7v.7h-.7zM1016.1 574.6h.7v.7h-.7zM1016.1 575.3h.7v.7h-.7zM1016.1 578.1h.7v.7h-.7zM1016.1 580.2h.7v.7h-.7zM1016.1 582.3h.7v.7h-.7z" fill="#222"/>
<text x="1012.3" y="589.8" font-size="3.1" font-weight="bold" fill="#222" text-anchor="middle" direction="rtl" textLength="14" lengthAdjust="spacingAndGlyphs">گراف شبکه</text>
<text x="1012.3" y="595.2" font-size="3.1" font-weight="bold" fill="#222" text-anchor="middle" direction="rtl" textLength="15.5" lengthAdjust="spacingAndGlyphs">شبکه همسایگی</text>
<path d="M1016.8 576H1020.3" stroke="#aaa" stroke-width="0.4"/>
<rect x="1020.3" y="570" width="21.4" height="16.3" rx="2.2" fill="#fff" stroke="#c9a0a8" stroke-width="0.6"/>
<text x="1031" y="574.6" font-size="2.6" font-weight="normal" fill="#222" text-anchor="middle" direction="rtl" >گام‌زنی</text>
<text x="1031" y="578.8" font-size="2.6" font-weight="normal" fill="#222" text-anchor="middle" direction="rtl" textLength="18" lengthAdjust="spacingAndGlyphs">احتمالاتی برای تشخیص</text>
<text x="1031" y="583" font-size="2.6" font-weight="normal" fill="#222" text-anchor="middle" direction="rtl" >تقلب</text>
<path d="M1041.7 576.2H1085.8V636" fill="none" stroke="#666" stroke-width="0.6"/>
<rect x="974.8" y="626.4" width="87.5" height="70.2" rx="9" fill="none" stroke="#8a4a9a" stroke-width="0.6" stroke-dasharray="0.9 1.1"/>
<path d="M960 644.5L954.7 649.2M954.7 649.2L963.8 649.2M954.7 649.2L963.8 656M963.8 649.2L954.7 656M954.7 656L963.8 656M954.7 649.2L954.7 656M963.8 649.2L963.8 656" stroke="#222" stroke-width="0.6" fill="none"/><ellipse cx="960" cy="644.5" rx="2.0" ry="1.7" fill="#58c840" stroke="#1e7a28" stroke-width="0.5"/><ellipse cx="954.7" cy="649.2" rx="2.0" ry="1.7" fill="#58c840" stroke="#1e7a28" stroke-width="0.5"/><ellipse cx="963.8" cy="649.2" rx="2.0" ry="1.7" fill="#58c840" stroke="#1e7a28" stroke-width="0.5"/><ellipse cx="954.7" cy="656" rx="2.0" ry="1.7" fill="#58c840" stroke="#1e7a28" stroke-width="0.5"/><ellipse cx="963.8" cy="656" rx="2.0" ry="1.7" fill="#58c840" stroke="#1e7a28" stroke-width="0.5"/>
<text x="960" y="661.4" font-size="2.6" font-weight="bold" fill="#222" text-anchor="middle" direction="rtl" >گراف تعبیش</text>
<path d="M953.2 649.2l-2.2-1v2z" fill="#666"/>
<path d="M966.3 652.5H1045.5M1045.5 649V665.6" stroke="#6a5a50" stroke-width="0.9" fill="none"/>
<rect x="984.2" y="647" width="20.7" height="14.4" fill="#f3dbe8" stroke="#4848c8" stroke-width="0.7"/><path d="M988.3 647V661.4M992.5 647V661.4M996.6 647V661.4M1000.8 647V661.4M984.2 649.9H1004.9M984.2 652.8H1004.9M984.2 655.6H1004.9M984.2 658.5H1004.9" stroke="#4848c8" stroke-width="0.7" fill="none"/>
<text x="994.5" y="645.6" font-size="2.6" font-weight="bold" fill="#222" text-anchor="middle" direction="rtl" >ماتریس مجاورت</text>
<rect x="1034.1" y="634.4" width="21.6" height="14.6" fill="#f3dbe8" stroke="#4848c8" stroke-width="0.7"/><path d="M1038.4 634.4V649M1042.7 634.4V649M1047.1 634.4V649M1051.4 634.4V649M1034.1 637.3H1055.7M1034.1 640.2H1055.7M1034.1 643.2H1055.7M1034.1 646.1H1055.7" stroke="#4848c8" stroke-width="0.7" fill="none"/>
<text x="1045" y="630.6" font-size="2.5" font-weight="bold" fill="#222" text-anchor="middle" direction="rtl" >ماتریس مجاورت</text>
<text x="1045" y="633.4" font-size="2.5" font-weight="bold" fill="#222" text-anchor="middle" direction="rtl" >بازسازی شده</text>
<path d="M1058 650.4H1064.5" stroke="#6a5a50" stroke-width="0.7"/><path d="M1066 650.4l-2.2-1v2z" fill="#6a5a50"/>
<rect x="985.9" y="665.6" width="13.1" height="9.2" fill="#f3dbe8" stroke="#4848c8" stroke-width="0.7"/><path d="M990.3 665.6V674.8M994.6 665.6V674.8M985.9 668.7H999M985.9 671.7H999" stroke="#4848c8" stroke-width="0.7" fill="none"/>
<path d="M992.2 661.4V665" stroke="#d02020" stroke-width="0.6"/>
<text x="984.6" y="670.4" font-size="2.4" font-weight="bold" fill="#222" text-anchor="middle" direction="rtl" transform="rotate(-90 984.6 670.4)">رمزگذار</text>
<rect x="983.2" y="682.2" width="25.2" height="8.8" fill="#f3dbe8" stroke="#4848c8" stroke-width="0.7"/><path d="M987.4 682.2V691M991.6 682.2V691M995.8 682.2V691M1000.0 682.2V691M1004.2 682.2V691M983.2 685.1H1008.4M983.2 688.1H1008.4" stroke="#4848c8" stroke-width="0.7" fill="none"/>
<text x="995.8" y="694.6" font-size="2.6" font-weight="bold" fill="#222" text-anchor="middle" direction="rtl" >رمزگذار خودکار</text>
<path d="M999 668.4H1008.8M1002.2 668.4V682.2M1008.8 668.4Q1010 668.4 1010 670V672Q1010 673.5 1011.5 673.5H1014.2" stroke="#5a4a40" stroke-width="0.8" fill="none"/>
<rect x="1006" y="659.3" width="25.8" height="18.3" rx="4" fill="none" stroke="#8a4a9a" stroke-width="0.6" stroke-dasharray="0.9 1.1"/>
<rect x="1014.2" y="660.7" width="11.5" height="3.1" rx="0.6" fill="#f5e27a" stroke="#ff6a2a" stroke-width="0.7"/>
<rect x="1011" y="666.3" width="17.8" height="3.3" rx="0.6" fill="#f5e27a" stroke="#ff5a2a" stroke-width="0.8"/>
<rect x="1014.2" y="672" width="11.5" height="3" rx="0.6" fill="#d4d45c" stroke="#8c8c30" stroke-width="0.6"/>
<path d="M1020 663.8V666.3M1020 669.6V672" stroke="#333" stroke-width="0.5"/>
<path d="M1031.8 668.2H1038.4" stroke="#5a4a40" stroke-width="0.7"/><path d="M1039.8 668.2l-2.2-1v2z" fill="#5a4a40"/>
<rect x="1039.8" y="665.6" width="13.0" height="9.2" fill="#f3dbe8" stroke="#4848c8" stroke-width="0.7"/><path d="M1044.1 665.6V674.8M1048.5 665.6V674.8M1039.8 668.7H1052.8M1039.8 671.7H1052.8" stroke="#4848c8" stroke-width="0.7" fill="none"/>
<text x="1046" y="677.6" font-size="2.5" font-weight="bold" fill="#222" text-anchor="middle" direction="rtl" >رمزگشا گراف</text>
<text x="1046" y="680.6" font-size="2.5" font-weight="bold" fill="#222" text-anchor="middle" direction="rtl" >بازسازی شده</text>
<text x="1021.6" y="681.6" font-size="3.1" font-weight="bold" fill="#222" text-anchor="middle" direction="rtl" textLength="23" lengthAdjust="spacingAndGlyphs">رمزگذار خودکار گراف</text>
<text x="1015.2" y="701" font-size="3.4" font-weight="bold" fill="#222" text-anchor="middle" direction="rtl" >گام سوم</text>
<path d="M1077.5 636V641M1085.6 636V641" stroke="#666" stroke-width="0.6"/>
<text x="1083" y="639.8" font-size="2.6" font-weight="bold" fill="#222" text-anchor="middle" direction="rtl" textLength="24" lengthAdjust="spacingAndGlyphs">لایه شبکه عصبی گرافی</text>
<rect x="1066" y="641" width="36.8" height="19.7" rx="3" fill="#e3cfdb" stroke="#ff63b1" stroke-width="1.1"/>
<text x="1084" y="646.2" font-size="2.6" font-weight="bold" fill="#222" text-anchor="middle" direction="rtl" >تعبیه‌سازی</text>
<path d="M1077.7 650.2L1086.6 650.2M1077.7 650.2L1090.4 655.8M1077.7 650.2L1086.9 658.3M1086.6 650.2L1078.2 657M1077.7 650.2L1078.2 657M1090.4 655.8L1086.9 658.3" stroke="#222" stroke-width="0.6" fill="none"/><ellipse cx="1077.7" cy="650.2" rx="1.8" ry="1.5" fill="#58c840" stroke="#1e7a28" stroke-width="0.5"/><ellipse cx="1086.6" cy="650.2" rx="1.8" ry="1.5" fill="#58c840" stroke="#1e7a28" stroke-width="0.5"/><ellipse cx="1090.4" cy="655.8" rx="1.8" ry="1.5" fill="#58c840" stroke="#1e7a28" stroke-width="0.5"/><ellipse cx="1078.2" cy="657" rx="1.8" ry="1.5" fill="#58c840" stroke="#1e7a28" stroke-width="0.5"/><ellipse cx="1086.9" cy="658.3" rx="1.8" ry="1.5" fill="#58c840" stroke="#1e7a28" stroke-width="0.5"/>
<path d="M1102.8 651.6H1126.6" stroke="#7a6a60" stroke-width="0.7"/>
<text x="1114.6" y="648.2" font-size="2.6" font-weight="normal" fill="#222" text-anchor="middle" direction="rtl" >بازنمایی گره</text>
<rect x="1126.6" y="638.6" width="8.7" height="28.7" rx="1.6" fill="#e3cfdb" stroke="#ff63b1" stroke-width="1"/>
<text x="1131.6" y="653" font-size="2.6" font-weight="bold" fill="#222" text-anchor="middle" direction="rtl" transform="rotate(-90 1131.6 653)" textLength="20" lengthAdjust="spacingAndGlyphs">لایه رمزگذار زمانی</text>
<path d="M1135.3 651.2H1138" stroke="#5a4a40" stroke-width="0.7"/><path d="M1139.2 651.2l-2-1v2z" fill="#5a4a40"/>
<rect x="1139.2" y="638.2" width="42.5" height="26.3" rx="4.5" fill="#e3cfdb" stroke="#ff63b1" stroke-width="1.1"/>
<text x="1160.5" y="641.8" font-size="2.6" font-weight="bold" fill="#222" text-anchor="middle" direction="rtl" >لایه تجمیع فضایی</text>
<rect x="1141" y="644.1" width="18.6" height="16.6" rx="2.4" fill="#e3cfdb" stroke="#ff63b1" stroke-width="1"/>
<rect x="1160.8" y="644.1" width="18.1" height="16.6" rx="2.4" fill="#e3cfdb" stroke="#ff63b1" stroke-width="1"/>
<text x="1150.3" y="652" font-size="2.4" font-weight="normal" fill="#222" text-anchor="middle" direction="rtl" >تجمیع درون</text>
<text x="1150.3" y="655" font-size="2.4" font-weight="normal" fill="#222" text-anchor="middle" direction="rtl" >ارتباطی</text>
<text x="1169.8" y="653.4" font-size="2.4" font-weight="normal" fill="#222" text-anchor="middle" direction="rtl" textLength="16" lengthAdjust="spacingAndGlyphs">تجمیع بین ارتباطی</text>
<path d="M1181.7 652.3H1191Q1192.4 652.3 1192.4 653.8V683.5Q1192.4 685 1191 685H1183.2" fill="none" stroke="#8a7a70" stroke-width="0.8"/><path d="M1181.9 685l2.2-1v2z" fill="#5a4a40"/>
<rect x="1128.7" y="671" width="53" height="26" rx="4.5" fill="#e3cfdb" stroke="#ff63b1" stroke-width="1.1"/>
<text x="1155" y="675" font-size="2.6" font-weight="bold" fill="#222" text-anchor="middle" direction="rtl" >لایه تقابلی متمایز</text>
<rect x="1131.9" y="675.8" width="18.9" height="16.8" rx="2.4" fill="#e3cfdb" stroke="#ff63b1" stroke-width="1"/>
<rect x="1159.9" y="675.8" width="19" height="16.8" rx="2.4" fill="#e3cfdb" stroke="#ff63b1" stroke-width="1"/>
<text x="1141.3" y="685.6" font-size="2.4" font-weight="normal" fill="#222" text-anchor="middle" direction="rtl" >توجه چند سر</text>
<text x="1169.4" y="685.2" font-size="2.4" font-weight="normal" fill="#222" text-anchor="middle" direction="rtl" textLength="16.5" lengthAdjust="spacingAndGlyphs">شبکه عصبی پیشخور</text>
<path d="M1159.9 682.2H1152.4" stroke="#5a4a40" stroke-width="0.6"/><path d="M1150.9 682.2l2-1v2z" fill="#5a4a40"/>
<path d="M1128.7 680.4H1117.4" stroke="#7a6a60" stroke-width="0.7"/><path d="M1116.1 680.4l2-1v2z" fill="#5a4a40"/>
<defs><linearGradient id="gg" x1="0" y1="0" x2="0" y2="1"><stop offset="0" stop-color="#9a6f97"/><stop offset=".45" stop-color="#a8b4a0"/><stop offset="1" stop-color="#8ff08f"/></linearGradient><linearGradient id="rg" x1="0" y1="0" x2="0" y2="1"><stop offset="0" stop-color="#f9b9b9"/><stop offset="1" stop-color="#e23c3c"/></linearGradient></defs>
<rect x="1102" y="675.8" width="14" height="11.6" rx="1.6" fill="url(#gg)" stroke="#888" stroke-width="0.6"/>
<text x="1109" y="682.6" font-size="2.3" font-weight="normal" fill="#222" text-anchor="middle" direction="rtl" >لایه طبقه‌بند</text>
<path d="M1102 680.4H1091" stroke="#7a6a60" stroke-width="0.7"/><path d="M1089.6 680.4l2-1v2z" fill="#5a4a40"/>
<rect x="1070.3" y="676.9" width="19.1" height="7.7" rx="1.4" fill="url(#rg)"/>
<text x="1079.8" y="681.8" font-size="2.5" font-weight="bold" fill="#222" text-anchor="middle" direction="rtl" >محاسبه تقلب</text>
</svg>
<svg class="b" style="left:1150px;top:5px" width="125" height="108" viewBox="1150 5 125 108">
<path fill="#c28d1c" fill-rule="evenodd" d="M1162.6 82 A49.6 51.6 0 0 1 1261.8 82 L1258.7 82 A39.4 44.3 0 0 0 1179.9 82 Z"/>
<path d="M1229.7 12.5 C1233.2 25.1 1237.5 40.1 1237.5 50.5 C1237.5 59.7 1234.2 60.7 1232.7 62.2 L1232.7 70.0 L1226.7 70.0 L1226.7 62.2 C1225.2 60.7 1221.9 59.7 1221.9 50.5 C1221.9 40.1 1226.2 25.1 1229.7 12.5 Z" fill="#1b6a38"/>
<path d="M1229.7 15.6 C1232.6 28.2 1236.1 40.1 1236.1 50.5 C1236.1 59.7 1232.8 60.7 1231.3 62.2 L1231.3 68.6 L1228.1 68.6 L1228.1 62.2 C1226.6 60.7 1223.3 59.7 1223.3 50.5 C1223.3 40.1 1226.8 28.2 1229.7 15.6 Z" fill="none" stroke="#eef6e8" stroke-width="0.9"/>
<path d="M1229.7 39 C1230.7 44.1 1231.7 46.2 1231.7 49.2 C1231.7 52.2 1230.5 54 1229.7 54 C1228.9 54 1227.7 52.2 1227.7 49.2 C1227.7 46.2 1228.7 44.1 1229.7 39 Z" fill="#d9921a"/>
<path d="M1221.3 20.0 C1225.6 33.6 1230.9 49.8 1230.9 60.9 C1230.9 70.8 1227.0 72.1 1225.5 73.6 L1225.5 82.0 L1217.1 82.0 L1217.1 73.6 C1215.6 72.1 1211.7 70.8 1211.7 60.9 C1211.7 49.8 1217.0 33.6 1221.3 20.0 Z" fill="#1b6a38"/>
<path d="M1221.3 23.1 C1225.0 36.7 1229.5 49.8 1229.5 60.9 C1229.5 70.8 1225.6 72.1 1224.1 73.6 L1224.1 80.6 L1218.5 80.6 L1218.5 73.6 C1217.0 72.1 1213.1 70.8 1213.1 60.9 C1213.1 49.8 1217.6 36.7 1221.3 23.1 Z" fill="none" stroke="#eef6e8" stroke-width="0.9"/>
<path d="M1221.3 47 C1222.8 53.6 1224.3 57.3 1224.3 60.3 C1224.3 63.3 1222.5 66.5 1221.3 66.5 C1220.1 66.5 1218.3 63.3 1218.3 60.3 C1218.3 57.3 1219.8 53.6 1221.3 47 Z" fill="#d9921a"/>
<path d="M1238.3 20.0 C1242.6 33.6 1247.9 49.8 1247.9 60.9 C1247.9 70.8 1244.0 72.1 1242.5 73.6 L1242.5 82.0 L1234.1 82.0 L1234.1 73.6 C1232.6 72.1 1228.7 70.8 1228.7 60.9 C1228.7 49.8 1234.0 33.6 1238.3 20.0 Z" fill="#1b6a38"/>
<path d="M1238.3 23.1 C1242.0 36.7 1246.5 49.8 1246.5 60.9 C1246.5 70.8 1242.6 72.1 1241.1 73.6 L1241.1 80.6 L1235.5 80.6 L1235.5 73.6 C1234.0 72.1 1230.1 70.8 1230.1 60.9 C1230.1 49.8 1234.6 36.7 1238.3 23.1 Z" fill="none" stroke="#eef6e8" stroke-width="0.9"/>
<path d="M1238.3 47 C1239.8 53.6 1241.3 57.3 1241.3 60.3 C1241.3 63.3 1239.5 66.5 1238.3 66.5 C1237.1 66.5 1235.3 63.3 1235.3 60.3 C1235.3 57.3 1236.8 53.6 1238.3 47 Z" fill="#d9921a"/>
<rect x="1220.2" y="75" width="2.2" height="5.6" fill="#1b6a38" stroke="#cfe8c8" stroke-width="0.5"/>
<rect x="1237.2" y="75" width="2.2" height="5.6" fill="#1b6a38" stroke="#cfe8c8" stroke-width="0.5"/>
<path d="M1207.5 84.2 C1198 90.5 1187 95 1175.5 95.6" fill="none" stroke="#175c3a" stroke-width="1.5" stroke-linecap="round" stroke-linejoin="round"/>
<path d="M1175.6 95.4 C1174.5 100 1170 103.4 1166 103 C1163 102.6 1161.6 100.4 1162.4 97.4" fill="none" stroke="#175c3a" stroke-width="1.6" stroke-linecap="round" stroke-linejoin="round"/>
<path d="M1185.4 95 C1185.4 98.5 1182 101.6 1177.4 102.7" fill="none" stroke="#175c3a" stroke-width="1.5" stroke-linecap="round" stroke-linejoin="round"/>
<path d="M1194.4 96.8 C1196.4 99.5 1195.6 102 1192.6 102.3 L1188.4 101.5" fill="none" stroke="#175c3a" stroke-width="1.8" stroke-linecap="round" stroke-linejoin="round"/>
<path d="M1231 99.4 C1226 101.5 1218 101.8 1210 101.5 C1204 101.3 1199.5 100.7 1196.8 99.7" fill="none" stroke="#175c3a" stroke-width="2.7" stroke-linecap="round" stroke-linejoin="round"/>
<path d="M1230.4 89.3 C1231.5 93 1231 97 1229.6 100" fill="none" stroke="#175c3a" stroke-width="1.4" stroke-linecap="round" stroke-linejoin="round"/>
<path d="M1223.2 94.6 L1222.8 100 M1215.2 95.4 L1214.8 100.4 M1206.6 95.8 L1206.2 100.4" fill="none" stroke="#175c3a" stroke-width="1.2" stroke-linecap="round" stroke-linejoin="round"/>
<path d="M1238.4 100.4 A1.9 2.1 0 1 1 1234.6 100.4 A1.9 2.1 0 1 1 1238.4 100.4" fill="none" stroke="#175c3a" stroke-width="1.3" stroke-linecap="round" stroke-linejoin="round"/>
<path d="M1252.2 85.3 C1249 92 1244.5 98.6 1239.4 102.6" fill="none" stroke="#175c3a" stroke-width="1.5" stroke-linecap="round" stroke-linejoin="round"/>
<path d="M1245.8 86.8 C1243.4 91 1240.4 94.4 1236.4 96.8" fill="none" stroke="#175c3a" stroke-width="1.2" stroke-linecap="round" stroke-linejoin="round"/>
<path d="M1253.2 98.8 C1250.6 101.4 1247 102.2 1243.6 101" fill="none" stroke="#175c3a" stroke-width="1.7" stroke-linecap="round" stroke-linejoin="round"/>
<path d="M1249 93.5 L1248.2 99.5 M1246.2 95.5 L1245.8 100.2" fill="none" stroke="#175c3a" stroke-width="1.0" stroke-linecap="round" stroke-linejoin="round"/>
<path d="M1257.3 85.3 C1257 91 1255.9 97.4 1254.1 102.6" fill="none" stroke="#175c3a" stroke-width="1.5" stroke-linecap="round" stroke-linejoin="round"/>
<path d="M1261.2 94.4 C1263.2 97.8 1262.9 101 1261 102.1 C1260 102.7 1258.6 102.4 1258.2 101.6" fill="none" stroke="#175c3a" stroke-width="1.5" stroke-linecap="round" stroke-linejoin="round"/>
<circle cx="1256.2" cy="84.3" r="0.9" fill="#175c3a"/>
<circle cx="1243" cy="86.2" r="0.8" fill="#175c3a"/>
<circle cx="1244.6" cy="87.4" r="0.8" fill="#175c3a"/>
<circle cx="1241.6" cy="87.6" r="0.8" fill="#175c3a"/>
<circle cx="1230" cy="86.8" r="0.8" fill="#175c3a"/>
<circle cx="1231.9" cy="86.6" r="0.8" fill="#175c3a"/>
<circle cx="1212.6" cy="104.3" r="0.8" fill="#175c3a"/>
<circle cx="1214.5" cy="104.3" r="0.8" fill="#175c3a"/>
<circle cx="1221.6" cy="104.6" r="0.8" fill="#175c3a"/>
<circle cx="1199.5" cy="104.2" r="0.7" fill="#175c3a"/>
<path d="M1181.2 86.8 L1184.8 86.2" stroke="#175c3a" stroke-width="0.7"/>
</svg>
</body></html>
